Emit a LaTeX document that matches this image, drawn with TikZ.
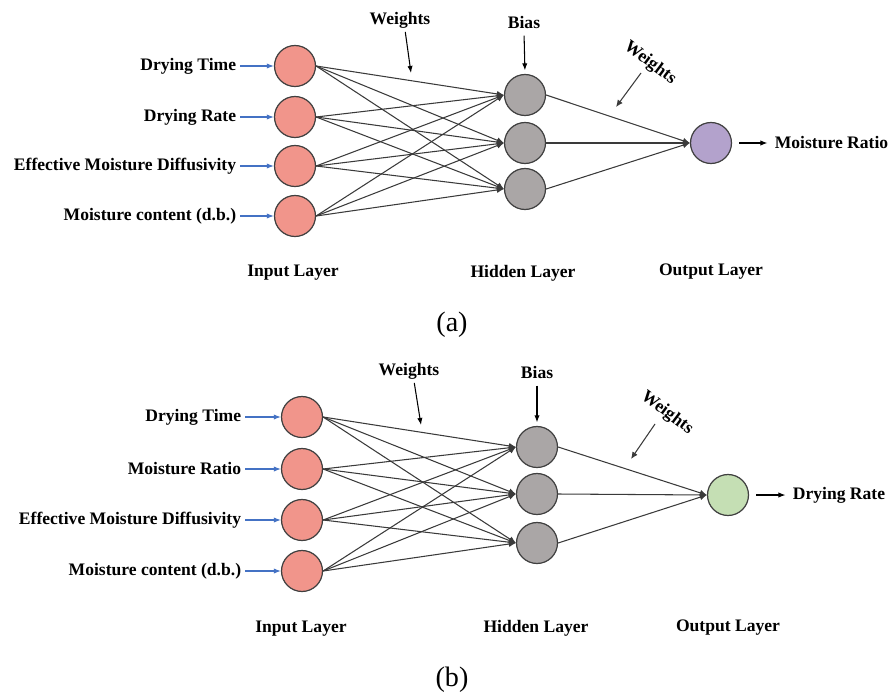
\documentclass[tikz,border=0pt]{standalone}
\usepackage{fontspec}
\setmainfont{Liberation Serif}
\usetikzlibrary{arrows.meta}
\definecolor{inred}{HTML}{F1958B}
\definecolor{hidgray}{HTML}{AAA6A6}
\definecolor{outpurple}{HTML}{B3A2CC}
\definecolor{outgreen}{HTML}{C5DFB4}
\definecolor{inblue}{HTML}{4472C4}
\definecolor{edgegray}{HTML}{3A3A3A}

\begin{document}
\begin{tikzpicture}[x=0.02cm, y=-0.02cm,
  neuron/.style={circle, draw=black!75, line width=0.7pt, minimum size=0.82cm, inner sep=0pt},
  lbl/.style={font=\bfseries, inner sep=2pt},
  edge/.style={draw=edgegray, line width=0.6pt, -{Latex[length=4pt,width=3.5pt]}},
  inarrow/.style={draw=inblue, line width=0.6pt, -{Latex[length=4pt,width=3pt]}},
  blk/.style={draw=black, line width=0.6pt, -{Latex[length=4pt,width=3pt]}}]

\useasboundingbox (0,0) rectangle (892,696);

% (a)
\node[neuron, fill=inred] (ia1) at (295,66) {};
\node[neuron, fill=inred] (ia2) at (295,117) {};
\node[neuron, fill=inred] (ia3) at (295,166) {};
\node[neuron, fill=inred] (ia4) at (295,216) {};
\node[neuron, fill=hidgray] (ha1) at (525,95) {};
\node[neuron, fill=hidgray] (ha2) at (525,143) {};
\node[neuron, fill=hidgray] (ha3) at (525,189) {};
\node[neuron, fill=outpurple] (oa) at (711,143) {};

\node[lbl, anchor=east] (la1) at (240,66) {Drying Time};
\node[lbl, anchor=east] (la2) at (240,117) {Drying Rate};
\node[lbl, anchor=east] (la3) at (240,166) {Effective Moisture Diffusivity};
\node[lbl, anchor=east] (la4) at (240,216) {Moisture content (d.b.)};
\node[lbl, anchor=west] (ra) at (771,143) {Moisture Ratio};

\node[lbl] (wta) at (400,20) {Weights};
\node[lbl] (bsa) at (524,22) {Bias};
\node[lbl, rotate=-37] (wra) at (650,63) {Weights};
\coordinate (wa) at (411,73);
\coordinate (wra1) at (641,73);
\coordinate (wra2) at (616,107);

\node[lbl] at (293,273) {Input Layer};
\node[lbl] at (523,273) {Hidden Layer};
\node[lbl] at (711,272) {Output Layer};
\node[font=\fontsize{16}{18}\selectfont] at (452,325) {(a)};

\draw[inarrow] (la1.east) -- (ia1.west);
\draw[inarrow] (la2.east) -- (ia2.west);
\draw[inarrow] (la3.east) -- (ia3.west);
\draw[inarrow] (la4.east) -- (ia4.west);

% Archi
\draw[edge] (ia1.east) -- (ha1.west);
\draw[edge] (ia1.east) -- (ha2.west);
\draw[edge] (ia1.east) -- (ha3.west);
\draw[edge] (ia2.east) -- (ha1.west);
\draw[edge] (ia2.east) -- (ha2.west);
\draw[edge] (ia2.east) -- (ha3.west);
\draw[edge] (ia3.east) -- (ha1.west);
\draw[edge] (ia3.east) -- (ha2.west);
\draw[edge] (ia3.east) -- (ha3.west);
\draw[edge] (ia4.east) -- (ha1.west);
\draw[edge] (ia4.east) -- (ha2.west);
\draw[edge] (ia4.east) -- (ha3.west);
\draw[edge] (ha1.east) -- (oa.west);
\draw[edge] (ha2.east) -- (oa.west);
\draw[edge] (ha3.east) -- (oa.west);
\draw[blk, shorten <=4pt, shorten >=2pt] (oa.east) -- (ra.west);

\draw[blk] ([xshift=3pt]wta.south) -- (wa);
\draw[blk, shorten <=2pt, shorten >=2pt] (bsa.south) -- (ha1.north);
\draw[edge] (wra1) -- (wra2);

% (b)
\node[neuron, fill=inred] (ib1) at (302,417) {};
\node[neuron, fill=inred] (ib2) at (302,469) {};
\node[neuron, fill=inred] (ib3) at (302,520) {};
\node[neuron, fill=inred] (ib4) at (302,571) {};
\node[neuron, fill=hidgray] (hb1) at (537,447) {};
\node[neuron, fill=hidgray] (hb2) at (537,494) {};
\node[neuron, fill=hidgray] (hb3) at (537,543) {};
\node[neuron, fill=outgreen] (ob) at (728,495) {};

\node[lbl, anchor=east] (lb1) at (245,417) {Drying Time};
\node[lbl, anchor=east] (lb2) at (245,469) {Moisture Ratio};
\node[lbl, anchor=east] (lb3) at (245,520) {Effective Moisture Diffusivity};
\node[lbl, anchor=east] (lb4) at (245,571) {Moisture content (d.b.)};
\node[lbl, anchor=west] (rb) at (789,495) {Drying Rate};

\node[lbl] (wtb) at (409,371) {Weights};
\node[lbl] (bsb) at (537,372) {Bias};
\node[lbl, rotate=-37] (wrb) at (667,413) {Weights};
\coordinate (wb) at (421,425);
\coordinate (wrb1) at (655,424);
\coordinate (wrb2) at (631,459);

\node[lbl] at (301,629) {Input Layer};
\node[lbl] at (536,628) {Hidden Layer};
\node[lbl] at (728,628) {Output Layer};
\node[font=\fontsize{16}{18}\selectfont] at (452,680) {(b)};

\draw[inarrow] (lb1.east) -- (ib1.west);
\draw[inarrow] (lb2.east) -- (ib2.west);
\draw[inarrow] (lb3.east) -- (ib3.west);
\draw[inarrow] (lb4.east) -- (ib4.west);

% Archi
\draw[edge] (ib1.east) -- (hb1.west);
\draw[edge] (ib1.east) -- (hb2.west);
\draw[edge] (ib1.east) -- (hb3.west);
\draw[edge] (ib2.east) -- (hb1.west);
\draw[edge] (ib2.east) -- (hb2.west);
\draw[edge] (ib2.east) -- (hb3.west);
\draw[edge] (ib3.east) -- (hb1.west);
\draw[edge] (ib3.east) -- (hb2.west);
\draw[edge] (ib3.east) -- (hb3.west);
\draw[edge] (ib4.east) -- (hb1.west);
\draw[edge] (ib4.east) -- (hb2.west);
\draw[edge] (ib4.east) -- (hb3.west);
\draw[edge] (hb1.east) -- (ob.west);
\draw[edge] (hb2.east) -- (ob.west);
\draw[edge] (hb3.east) -- (ob.west);
\draw[blk, shorten <=4pt, shorten >=2pt] (ob.east) -- (rb.west);

\draw[blk] ([xshift=3pt]wtb.south) -- (wb);
\draw[blk, shorten <=2pt, shorten >=2pt] (bsb.south) -- (hb1.north);
\draw[edge] (wrb1) -- (wrb2);

\end{tikzpicture}
\end{document}
